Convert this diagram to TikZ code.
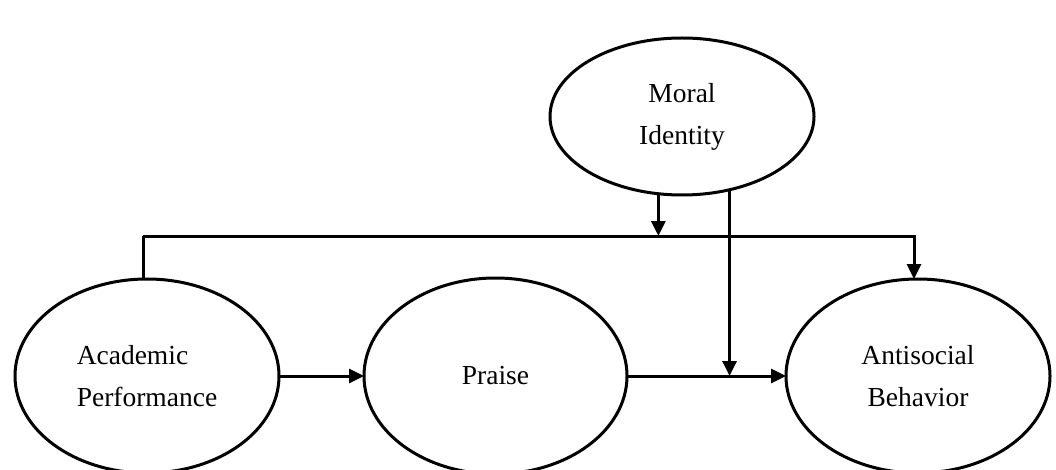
\documentclass[tikz,border=0pt]{standalone}
\usepackage{fontspec}
\setmainfont{Liberation Serif}
\usetikzlibrary{shapes.geometric,arrows.meta}
\begin{document}
\begin{tikzpicture}[x=1pt,y=1pt,
  var/.style={ellipse,draw,line width=3pt,outer sep=0pt,inner sep=0pt,
    minimum width=264pt,minimum height=194pt,
    font=\fontsize{27.5}{42}\selectfont},
  conn/.style={line width=3pt},
  arr/.style={conn,-{Triangle[length=15pt,width=14pt]}}]
\useasboundingbox (0,0) rectangle (1056,469);
\node[var,minimum height=157pt,align=center] (moral) at (682,352.5) {Moral\\Identity};
\node[var,align=left] (acad) at (147,93) {Academic\\Performance};
\node[var,minimum width=263pt,minimum height=196pt] (praise) at (495.5,93) {Praise};
\node[var,align=center] (anti) at (918,93) {Antisocial\\Behavior};
% top path
\coordinate (tl) at (143,233);
\draw[conn] ([xshift=-4pt]acad.north) -- ([xshift=-4pt]acad.north |- tl) coordinate (tl0);
\draw[arr] (tl0) -| ([xshift=-4pt]anti.north);
\draw[arr] (moral.253) -- (moral.253 |- tl);
% middle path
\draw[arr] (acad.east) -- (praise.west);
\draw[arr] (praise.east) -- (anti.west);
\draw[arr] (moral.-57) -- (moral.-57 |- anti.west);
\end{tikzpicture}
\end{document}
